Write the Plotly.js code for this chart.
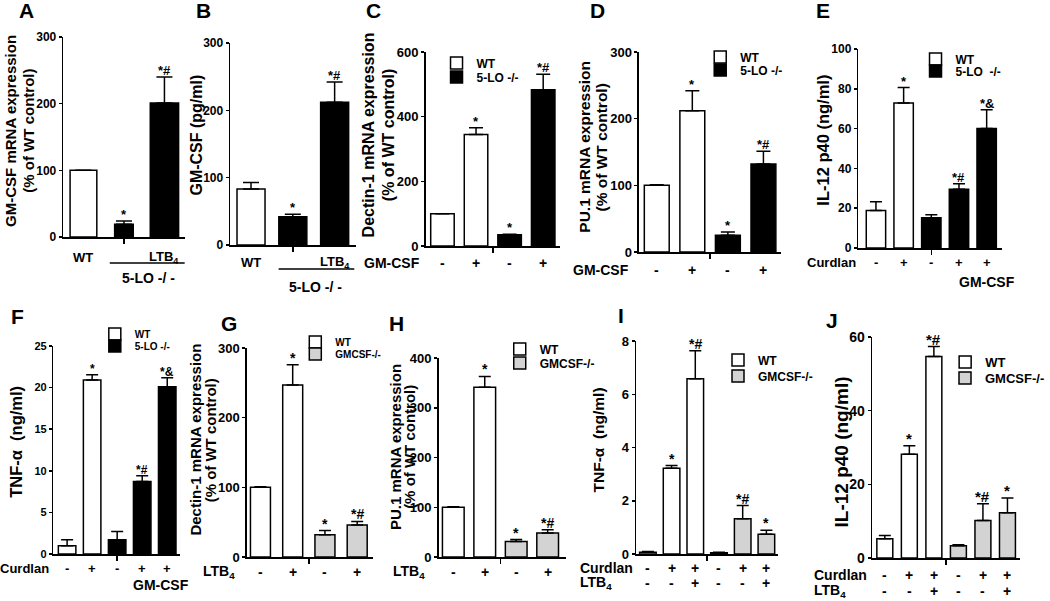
<!DOCTYPE html>
<html><head><meta charset="utf-8">
<script src="https://cdn.plot.ly/plotly-3.0.1.min.js"></script>
<style>html,body{margin:0;padding:0;background:#fff;}#chart{width:1050px;height:601px;}</style>
</head><body><div id="chart"></div>
<script>
// ---------------- DATA ----------------
const labelsA = ['WT', '', 'LTB<sub>4</sub>'];
const groupsA = ['WT', 'KO', 'KO'];
const valuesA = [100, 19, 201];
const errorsA = [0, 5, 39];
const signifA = ['', '*', '*#'];

const labelsB = ['WT', '', 'LTB<sub>4</sub>'];
const groupsB = ['WT', 'KO', 'KO'];
const valuesB = [83, 42, 212];
const errorsB = [10, 3.5, 30];
const signifB = ['', '*', '*#'];

const gmcsfC = ['-', '+', '-', '+'];
const wtC = [100, 345], wtErrC = [0, 21], wtSigC = ['', '*'];
const koC = [35, 483], koErrC = [1, 48], koSigC = ['*', '*#'];

const gmcsfD = ['-', '+', '-', '+'];
const wtD = [100, 212], wtErrD = [1, 30], wtSigD = ['', '*'];
const koD = [25, 132], koErrD = [5, 19], koSigD = ['*', '*#'];

const curdlanE = ['-', '+', '-', '+', '+'];
const wtE = [18.9, 72.9], wtErrE = [4.4, 7.7], wtSigE = ['', '*'];
const koE = [15.2, 29.5, 60.1], koErrE = [1.5, 2.8, 9.4], koSigE = ['', '*#', '*&'];

const curdlanF = ['-', '+', '-', '+', '+'];
const wtF = [1.0, 20.9], wtErrF = [0.72, 0.64], wtSigF = ['', '*'];
const koF = [1.7, 8.7, 20.1], koErrF = [1.0, 0.72, 1.08], koSigF = ['', '*#', '*&'];

const ltb4G = ['-', '+', '-', '+'];
const wtG = [100, 247], wtErrG = [1, 29], wtSigG = ['', '*'];
const koG = [32, 46], koErrG = [6, 5], koSigG = ['*', '*#'];

const ltb4H = ['-', '+', '-', '+'];
const wtH = [100, 341], wtErrH = [1, 22], wtSigH = ['', '*'];
const koH = [31, 48], koErrH = [4, 7], koSigH = ['*', '*#'];

const curdlanI = ['-', '+', '+', '-', '+', '+'];
const ltb4I = ['-', '-', '+', '-', '-', '+'];
const wtI = [0.07, 3.22, 6.58], wtErrI = [0.02, 0.1, 1.05], wtSigI = ['', '*', '*#'];
const koI = [0.05, 1.32, 0.74], koErrI = [0.02, 0.5, 0.15], koSigI = ['', '*#', '*'];

const curdlanJ = ['-', '+', '+', '-', '+', '+'];
const ltb4J = ['-', '-', '+', '-', '-', '+'];
const wtJ = [5.2, 28.2, 54.7], wtErrJ = [0.9, 2.3, 2.7], wtSigJ = ['', '*', '*#'];
const koJ = [3.3, 10.2, 12.3], koErrJ = [0.3, 4.5, 4.0], koSigJ = ['', '*#', '*'];

// ---------------- STYLE / LAYOUT ----------------
const W = 1050, H = 601;
const fam = 'Arial, "Liberation Sans", Helvetica, sans-serif';
const colors = {WT: '#ffffff', KO: '#000000', GM: '#d3d3d3'};
const px2x = p => p / W;
const px2y = p => 1 - p / H;
const bold = (size) => ({family: fam, size: size, color: '#000', weight: 'bold'});

const traces = [], annotations = [], shapes = [];
const layout = {
  width: W, height: H, margin: {l: 0, r: 0, t: 0, b: 0},
  paper_bgcolor: '#fff', plot_bgcolor: 'rgba(0,0,0,0)',
  barmode: 'overlay', showlegend: true,
  font: bold(12), annotations: annotations, shapes: shapes
};

let legendCount = 0;
function addLegend(trace, cfg) {
  legendCount++;
  const key = legendCount === 1 ? 'legend' : 'legend' + legendCount;
  trace.legend = key;
  layout[key] = {x: px2x(cfg.x - 11), y: px2y(cfg.y), xanchor: 'left', yanchor: 'middle',
    bgcolor: 'rgba(0,0,0,0)', borderwidth: 0, font: bold(cfg.size)};
}

function panel(k, cfg, series) {
  const ax = k === 1 ? '' : String(k);
  const xr = 'x' + ax, yr = 'y' + ax;
  layout['xaxis' + ax] = {domain: [cfg.xd[0] / W, cfg.xd[1] / W], range: cfg.xr, anchor: yr,
    showline: true, linewidth: 1.5, linecolor: '#000', showgrid: false, zeroline: false,
    tickmode: 'array', tickvals: cfg.gap, showticklabels: false, ticks: 'outside',
    ticklen: 5, tickwidth: 1.5, tickcolor: '#000', fixedrange: true};
  layout['yaxis' + ax] = {domain: [1 - cfg.yd[1] / H, 1 - cfg.yd[0] / H], range: cfg.yr, anchor: xr,
    showline: true, linewidth: 1.5, linecolor: '#000', showgrid: false, zeroline: false,
    tick0: 0, dtick: cfg.dtick, ticks: 'outside', ticklen: 3, tickwidth: 1.5, tickcolor: '#000',
    tickfont: bold(cfg.tf), fixedrange: true};
  let offset = 0;
  series.forEach(s => {
    const xs = s.values.map((_, i) => i + offset);
    offset += s.values.length;
    const tr = {type: 'bar', x: xs, y: s.values, xaxis: xr, yaxis: yr, name: s.name,
      width: cfg.bw, marker: {color: s.color, line: {color: '#000', width: 1.5}},
      error_y: {type: 'data', symmetric: false, array: s.errors, arrayminus: s.errors.map(() => 0),
        color: '#000', thickness: 1.5, width: cfg.cap},
      showlegend: !!s.legend, hoverinfo: 'skip'};
    if (s.legend) addLegend(tr, s.legend);
    traces.push(tr);
    s.signif.forEach((t, i) => {
      if (!t) return;
      annotations.push({xref: xr, yref: yr, x: xs[i], y: s.values[i] + s.errors[i], text: t,
        showarrow: false, yanchor: 'bottom', yshift: -3, font: bold(cfg.sf)});
    });
  });
  // condition labels under bars
  (cfg.rows || []).forEach(r => {
    r.labels.forEach((t, i) => {
      if (!t) return;
      annotations.push({xref: xr, yref: 'paper', x: i, y: px2y(r.y), text: t, showarrow: false,
        xanchor: 'center', yanchor: 'middle', font: bold(r.size)});
    });
    if (r.name) {
      annotations.push({xref: 'paper', yref: 'paper', x: px2x(r.nx), y: px2y(r.y), text: r.name,
        showarrow: false, xanchor: r.nanchor, yanchor: 'middle', font: bold(r.size)});
    }
  });
  (cfg.groups || []).forEach(g => {
    annotations.push({xref: xr, yref: 'paper', x: g.x, y: px2y(g.y), text: g.text, showarrow: false,
      xanchor: 'center', yanchor: 'middle', font: bold(g.size)});
    if (g.line) shapes.push({type: 'line', xref: xr, yref: 'paper', x0: g.line[0], x1: g.line[1],
      y0: px2y(g.line[2]), y1: px2y(g.line[2]), line: {color: '#000', width: 1.5}});
  });
  // y title
  cfg.title.lines.forEach(l => {
    annotations.push({xref: 'paper', yref: 'paper', x: px2x(l.x), y: px2y(cfg.title.y), text: l.text,
      textangle: -90, showarrow: false, xanchor: 'center', yanchor: 'middle', font: bold(cfg.title.size)});
  });
  // panel letter
  annotations.push({xref: 'paper', yref: 'paper', x: px2x(cfg.letter.x), y: px2y(cfg.letter.y),
    text: cfg.letter.t, showarrow: false, xanchor: 'center', yanchor: 'middle', font: bold(21)});
}

const KOname = '5-LO -/-', GMname = 'GMCSF-/-';

// A
panel(1, {xd: [64, 187], yd: [37, 237], xr: [-0.5, 2.5], yr: [0, 300], dtick: 100, tf: 12,
  bw: [0.66, 0.46, 0.7], cap: 8, sf: 13, gap: [1],
  rows: [{labels: labelsA, y: 257, size: 13}],
  groups: [{text: '5-LO -/ -', x: 1.6, y: 278, size: 14, line: [0.65, 2.65, 263]}],
  title: {lines: [{text: 'GM-CSF mRNA expression', x: 10}, {text: '(% of WT control)', x: 28}], y: 131, size: 15},
  letter: {t: 'A', x: 27, y: 11}},
  [{name: 'A', values: valuesA, errors: errorsA, signif: signifA, color: groupsA.map(g => colors[g])}]);

// B
panel(2, {xd: [233, 360], yd: [43, 245], xr: [-0.5, 2.5], yr: [0, 300], dtick: 100, tf: 12,
  bw: 0.67, cap: 8, sf: 13, gap: [1],
  rows: [{labels: labelsB, y: 262, size: 13}],
  groups: [{text: '5-LO -/ -', x: 1.55, y: 287, size: 14, line: [0.66, 2.47, 269]}],
  title: {lines: [{text: 'GM-CSF (pg/ml)', x: 198}], y: 135, size: 16},
  letter: {t: 'B', x: 206, y: 11}},
  [{name: 'B', values: valuesB, errors: errorsB, signif: signifB, color: groupsB.map(g => colors[g])}]);

// C
panel(3, {xd: [431, 567], yd: [52, 246], xr: [-0.5, 3.5], yr: [0, 600], dtick: 200, tf: 13,
  bw: 0.7, cap: 7, sf: 13, gap: [1.5],
  rows: [{labels: gmcsfC, y: 263, size: 14, name: 'GM-CSF', nx: 427, nanchor: 'right'}],
  title: {lines: [{text: 'Dectin-1 mRNA expression', x: 373}, {text: '(% of WT control)', x: 393}], y: 135, size: 16},
  letter: {t: 'C', x: 378, y: 11}},
  [{name: 'WT', values: wtC, errors: wtErrC, signif: wtSigC, color: colors.WT, legend: {x: 453, y: 63, size: 12}},
   {name: KOname, values: koC, errors: koErrC, signif: koSigC, color: colors.KO, legend: {x: 453, y: 77, size: 12}}]);

// D
panel(4, {xd: [647, 791], yd: [52, 252], xr: [-0.5, 3.5], yr: [0, 300], dtick: 100, tf: 13,
  bw: 0.7, cap: 7, sf: 13, gap: [1.5],
  rows: [{labels: gmcsfD, y: 270, size: 14, name: 'GM-CSF', nx: 639, nanchor: 'right'}],
  title: {lines: [{text: 'PU.1 mRNA expression', x: 591}, {text: '(% of WT control)', x: 609}], y: 147, size: 15.5},
  letter: {t: 'D', x: 605, y: 11}},
  [{name: 'WT', values: wtD, errors: wtErrD, signif: wtSigD, color: colors.WT, legend: {x: 720, y: 57, size: 12}},
   {name: KOname, values: koD, errors: koErrD, signif: koSigD, color: colors.KO, legend: {x: 720, y: 70, size: 12}}]);

// E
panel(5, {xd: [869, 1015], yd: [49, 248], xr: [-0.64, 4.57], yr: [0, 100], dtick: 20, tf: 12,
  bw: 0.7, cap: 6, sf: 13, gap: [2],
  rows: [{labels: curdlanE, y: 262, size: 13, name: 'Curdlan', nx: 869, nanchor: 'right'}],
  groups: [{text: 'GM-CSF', x: 4, y: 282, size: 14}],
  title: {lines: [{text: 'IL-12 p40 (ng/ml)', x: 833}], y: 140, size: 16.5},
  letter: {t: 'E', x: 833, y: 11}},
  [{name: 'WT', values: wtE, errors: wtErrE, signif: wtSigE, color: colors.WT, legend: {x: 938, y: 59, size: 12}},
   {name: '5-LO  -/-', values: koE, errors: koErrE, signif: koSigE, color: colors.KO, legend: {x: 938, y: 71, size: 12}}]);

// F
panel(6, {xd: [54, 182], yd: [346, 554], xr: [-0.55, 4.5], yr: [0, 25], dtick: 5, tf: 11,
  bw: 0.7, cap: 6, sf: 12, gap: [2],
  rows: [{labels: curdlanF, y: 568, size: 13, name: 'Curdlan', nx: 52, nanchor: 'right'}],
  groups: [{text: 'GM-CSF', x: 3.75, y: 585, size: 14}],
  title: {lines: [{text: 'TNF-α  (ng/ml)', x: 16}], y: 442, size: 16.5},
  letter: {t: 'F', x: 18, y: 316}},
  [{name: 'WT', values: wtF, errors: wtErrF, signif: wtSigF, color: colors.WT, legend: {x: 107, y: 334, size: 10}},
   {name: KOname, values: koF, errors: koErrF, signif: koSigF, color: colors.KO, legend: {x: 107, y: 346, size: 10}}]);

// G
panel(7, {xd: [250, 378], yd: [348, 557], xr: [-0.42, 3.5], yr: [0, 300], dtick: 100, tf: 13,
  bw: 0.62, cap: 6, sf: 14, gap: [1.5],
  rows: [{labels: ltb4G, y: 572, size: 14, name: 'LTB<sub>4</sub>', nx: 240, nanchor: 'right'}],
  title: {lines: [{text: 'Dectin-1 mRNA expression', x: 197}, {text: '(% of WT control)', x: 213}], y: 440, size: 15},
  letter: {t: 'G', x: 232, y: 323}},
  [{name: 'WT', values: wtG, errors: wtErrG, signif: wtSigG, color: colors.WT, legend: {x: 310, y: 342, size: 10}},
   {name: GMname, values: koG, errors: koErrG, signif: koSigG, color: colors.GM, legend: {x: 310, y: 354, size: 10}}]);

// H
panel(8, {xd: [444, 573], yd: [358, 557], xr: [-0.47, 3.58], yr: [0, 400], dtick: 100, tf: 13,
  bw: 0.69, cap: 6, sf: 14, gap: [1.5],
  rows: [{labels: ltb4H, y: 572, size: 14, name: 'LTB<sub>4</sub>', nx: 432, nanchor: 'right'}],
  title: {lines: [{text: 'PU.1 mRNA expression', x: 400}, {text: '(% of WT control)', x: 414}], y: 447, size: 15},
  letter: {t: 'H', x: 401, y: 323}},
  [{name: 'WT', values: wtH, errors: wtErrH, signif: wtSigH, color: colors.WT, legend: {x: 517, y: 349, size: 12}},
   {name: GMname, values: koH, errors: koErrH, signif: koSigH, color: colors.GM, legend: {x: 517, y: 363, size: 12}}]);

// I
panel(9, {xd: [644, 788], yd: [341, 554], xr: [-0.5, 5.5], yr: [0, 8], dtick: 2, tf: 13,
  bw: 0.7, cap: 6, sf: 14, gap: [2.5],
  rows: [{labels: curdlanI, y: 568, size: 14, name: 'Curdlan', nx: 585, nanchor: 'left'},
         {labels: ltb4I, y: 583, size: 14, name: 'LTB<sub>4</sub>', nx: 585, nanchor: 'left'}],
  title: {lines: [{text: 'TNF-α  (ng/ml)', x: 606}], y: 440, size: 15.5},
  letter: {t: 'I', x: 629, y: 315}},
  [{name: 'WT', values: wtI, errors: wtErrI, signif: wtSigI, color: colors.WT, legend: {x: 738, y: 360, size: 12}},
   {name: GMname, values: koI, errors: koErrI, signif: koSigI, color: colors.GM, legend: {x: 738, y: 376, size: 12}}]);

// J
panel(10, {xd: [883, 1033], yd: [337, 558], xr: [-0.52, 5.52], yr: [0, 60], dtick: 20, tf: 14,
  bw: 0.65, cap: 6, sf: 15, gap: [2.5],
  rows: [{labels: curdlanJ, y: 575, size: 14, name: 'Curdlan', nx: 822, nanchor: 'left'},
         {labels: ltb4J, y: 591, size: 14, name: 'LTB<sub>4</sub>', nx: 822, nanchor: 'left'}],
  title: {lines: [{text: 'IL-12 p40 (ng/ml)', x: 852}], y: 452, size: 19},
  letter: {t: 'J', x: 842, y: 320}},
  [{name: 'WT', values: wtJ, errors: wtErrJ, signif: wtSigJ, color: colors.WT, legend: {x: 968, y: 362, size: 13}},
   {name: GMname, values: koJ, errors: koErrJ, signif: koSigJ, color: colors.GM, legend: {x: 968, y: 378, size: 13}}]);

Plotly.newPlot('chart', traces, layout, {displayModeBar: false, staticPlot: true});
</script></body></html>
